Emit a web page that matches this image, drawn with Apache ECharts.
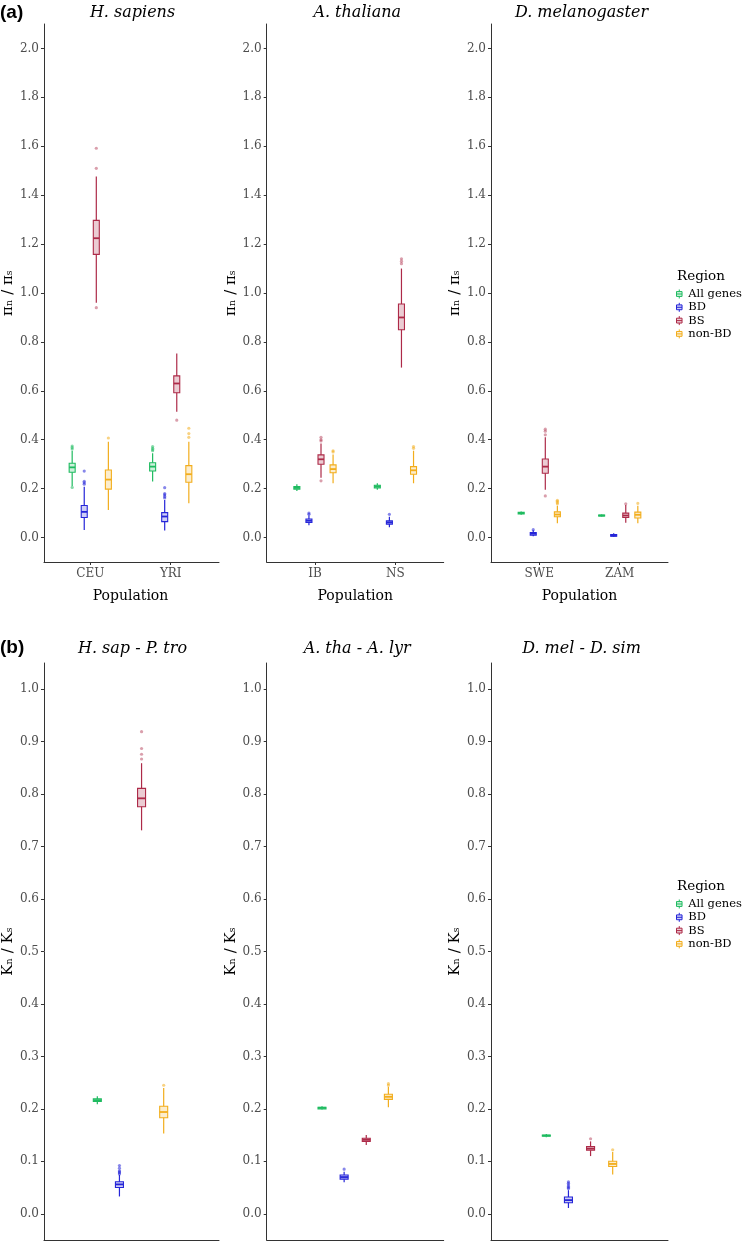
<!DOCTYPE html>
<html><head><meta charset="utf-8">
<script src="https://cdn.jsdelivr.net/npm/echarts@6/dist/echarts.min.js"></script>
<style>html,body{margin:0;padding:0;background:#fff}#c{width:747px;height:1247px}</style>
</head><body><div id="c"></div><script>
// ---------------- DATA ----------------
const regions = ['All genes', 'BD', 'BS', 'non-BD'];
const topTicks = [0.0, 0.2, 0.4, 0.6, 0.8, 1.0, 1.2, 1.4, 1.6, 1.8, 2.0];
const bottomTicks = [0.0, 0.1, 0.2, 0.3, 0.4, 0.5, 0.6, 0.7, 0.8, 0.9, 1.0];

// box stats: [lower whisker, Q1, median, Q3, upper whisker] per population
const hsPops = ['CEU', 'YRI'];
const hsAll = [[0.211, 0.267, 0.287, 0.304, 0.355], [0.229, 0.272, 0.290, 0.306, 0.345]];
const hsAllOut = [[0.362, 0.368, 0.374, 0.205], [0.355, 0.360, 0.365, 0.372]];
const hsBD = [[0.031, 0.082, 0.105, 0.131, 0.208], [0.029, 0.065, 0.086, 0.102, 0.154]];
const hsBDOut = [[0.218, 0.224, 0.230, 0.272], [0.162, 0.168, 0.175, 0.180, 0.204]];
const hsBS = [[0.960, 1.158, 1.224, 1.297, 1.476], [0.514, 0.592, 0.630, 0.661, 0.753]];
const hsBSOut = [[1.510, 1.592, 0.940], [0.480]];
const hsNon = [[0.113, 0.198, 0.237, 0.276, 0.392], [0.140, 0.226, 0.259, 0.294, 0.392]];
const hsNonOut = [[0.407], [0.410, 0.425, 0.447]];

const atPops = ['IB', 'NS'];
const atAll = [[0.190, 0.198, 0.203, 0.209, 0.218], [0.195, 0.203, 0.209, 0.214, 0.222]];
const atAllOut = [[], []];
const atBD = [[0.050, 0.062, 0.069, 0.076, 0.090], [0.042, 0.055, 0.062, 0.068, 0.085]];
const atBDOut = [[0.095, 0.100], [0.095]];
const atBS = [[0.245, 0.300, 0.320, 0.338, 0.385], [0.695, 0.850, 0.900, 0.955, 1.100]];
const atBSOut = [[0.395, 0.400, 0.410, 0.232], [1.120, 1.130, 1.140]];
const atNon = [[0.222, 0.265, 0.280, 0.297, 0.340], [0.222, 0.259, 0.275, 0.290, 0.355]];
const atNonOut = [[0.350, 0.355], [0.365, 0.372]];

const dmPops = ['SWE', 'ZAM'];
const dmAll = [[0.093, 0.096, 0.100, 0.103, 0.107], [0.086, 0.088, 0.090, 0.092, 0.094]];
const dmAllOut = [[], []];
const dmBD = [[0.005, 0.010, 0.016, 0.020, 0.030], [0.002, 0.005, 0.008, 0.012, 0.018]];
const dmBDOut = [[0.032], []];
const dmBS = [[0.195, 0.263, 0.290, 0.321, 0.410], [0.060, 0.082, 0.090, 0.100, 0.133]];
const dmBSOut = [[0.420, 0.435, 0.443, 0.170], [0.138]];
const dmNon = [[0.058, 0.085, 0.094, 0.105, 0.130], [0.058, 0.080, 0.093, 0.104, 0.130]];
const dmNonOut = [[0.138, 0.143, 0.148, 0.152], [0.140]];

const hpCat = ['H. sap - P. tro'];
const hpAll = [[0.209, 0.214, 0.2165, 0.219, 0.224]];
const hpAllOut = [[]];
const hpBD = [[0.033, 0.050, 0.056, 0.061, 0.074]];
const hpBDOut = [[0.076, 0.078, 0.080, 0.082, 0.087, 0.092]];
const hpBS = [[0.731, 0.776, 0.792, 0.811, 0.859]];
const hpBSOut = [[0.867, 0.876, 0.887, 0.919]];
const hpNon = [[0.153, 0.183, 0.194, 0.205, 0.240]];
const hpNonOut = [[0.245]];

const aaCat = ['A. tha - A. lyr'];
const aaAll = [[0.199, 0.200, 0.202, 0.203, 0.205]];
const aaAllOut = [[]];
const aaBD = [[0.060, 0.066, 0.070, 0.074, 0.080]];
const aaBDOut = [[0.085]];
const aaBS = [[0.131, 0.138, 0.141, 0.144, 0.150]];
const aaBSOut = [[]];
const aaNon = [[0.203, 0.218, 0.223, 0.228, 0.242]];
const aaNonOut = [[0.245, 0.248]];

const ddCat = ['D. mel - D. sim'];
const ddAll = [[0.146, 0.148, 0.149, 0.150, 0.152]];
const ddAllOut = [[]];
const ddBD = [[0.011, 0.021, 0.026, 0.032, 0.045]];
const ddBDOut = [[0.048, 0.050, 0.052, 0.055, 0.058, 0.061]];
const ddBS = [[0.110, 0.121, 0.124, 0.128, 0.138]];
const ddBSOut = [[0.143]];
const ddNon = [[0.075, 0.090, 0.095, 0.100, 0.118]];
const ddNonOut = [[0.122]];

// ---------------- STYLE ----------------
const lineColors = ['#1fbb60', '#2525d8', '#ad2a48', '#f2ad1c'];
const fillColors = ['rgba(31,187,96,0.22)', 'rgba(37,37,216,0.22)', 'rgba(173,42,72,0.24)', 'rgba(242,173,28,0.22)'];
const dotColors = ['rgba(31,187,96,0.55)', 'rgba(37,37,216,0.55)', 'rgba(173,42,72,0.45)', 'rgba(242,173,28,0.55)'];
const SERIF = "'DejaVu Serif', serif";
const DODGE = 0.15;
const PW = 177;
const lefts = [42, 266.7, 491];

const option = {
  animation: false,
  backgroundColor: '#fff',
  grid: [], xAxis: [], yAxis: [], series: [], graphic: [], legend: []
};

function boxRender(r, boxW) {
  return function (params, api) {
    const c = api.value(0);
    const band = api.size([1, 0], [c, 0])[0];
    const x = api.coord([c, 0])[0] + (r - 1.5) * DODGE * band;
    const ys = [1, 2, 3, 4, 5].map(k => api.coord([c, api.value(k)])[1]);
    const h = boxW / 2;
    const stroke = lineColors[r], fill = fillColors[r];
    return {
      type: 'group', children: [
        { type: 'line', shape: { x1: x, y1: ys[4], x2: x, y2: ys[3] }, style: { stroke: stroke, lineWidth: 1.2 } },
        { type: 'line', shape: { x1: x, y1: ys[1], x2: x, y2: ys[0] }, style: { stroke: stroke, lineWidth: 1.2 } },
        { type: 'rect', shape: { x: x - h, y: ys[3], width: boxW, height: ys[1] - ys[3] }, style: { fill: fill, stroke: stroke, lineWidth: 1.1 } },
        { type: 'line', shape: { x1: x - h, y1: ys[2], x2: x + h, y2: ys[2] }, style: { stroke: stroke, lineWidth: 1.8 } }
      ]
    };
  };
}
function dotRender(r) {
  return function (params, api) {
    const c = api.value(0);
    const band = api.size([1, 0], [c, 0])[0];
    const p = api.coord([c, api.value(1)]);
    return { type: 'circle', shape: { cx: p[0] + (r - 1.5) * DODGE * band, cy: p[1], r: 1.6 }, style: { fill: dotColors[r] } };
  };
}

function addPanel(cfg) {
  const L = cfg.left, n = cfg.cats.length;
  const gi = option.grid.length;
  option.grid.push({ left: L, top: cfg.top, width: PW, height: cfg.height, containLabel: false });
  option.xAxis.push({
    gridIndex: gi, type: 'value', min: 0, max: 1,
    axisLine: { show: true, onZero: false, lineStyle: { color: '#333', width: 1 } },
    axisTick: { show: false }, axisLabel: { show: false }, splitLine: { show: false }
  });
  option.yAxis.push({
    gridIndex: gi, type: 'value', min: cfg.yMin, max: cfg.yMax,
    axisLine: { show: true, onZero: false, lineStyle: { color: '#333', width: 1 } },
    axisTick: { show: true, length: 3, customValues: cfg.ticks, lineStyle: { color: '#333' } },
    axisLabel: { show: true, customValues: cfg.ticks, formatter: v => v.toFixed(1), color: '#4d4d4d', fontFamily: SERIF, fontSize: 12, margin: 5 },
    splitLine: { show: false },
    name: cfg.yName, nameLocation: 'middle', nameGap: 25, nameRotate: 90,
    nameTextStyle: { fontFamily: SERIF, fontSize: 15, color: '#000' }
  });
  const gd = option.grid.length;
  option.grid.push({ left: L + PW * 0.1 / (n + 0.2), top: cfg.top, width: PW * n / (n + 0.2), height: cfg.height, containLabel: false });
  option.xAxis.push({
    gridIndex: gd, type: 'category', data: cfg.cats, boundaryGap: true,
    axisLine: { show: false, onZero: false },
    axisTick: { show: cfg.showCats, alignWithLabel: true, length: 3, lineStyle: { color: '#333' } },
    axisLabel: { show: cfg.showCats, color: '#4d4d4d', fontFamily: SERIF, fontSize: 12, margin: 6 },
    splitLine: { show: false },
    name: cfg.showCats ? 'Population' : '', nameLocation: 'middle', nameGap: 27,
    nameTextStyle: { fontFamily: SERIF, fontSize: 14, color: '#000' }
  });
  option.yAxis.push({ gridIndex: gd, type: 'value', min: cfg.yMin, max: cfg.yMax, show: false });
  for (let r = 0; r < 4; r++) {
    option.series.push({
      type: 'custom', name: regions[r], xAxisIndex: gd, yAxisIndex: gd,
      data: cfg.boxes[r].map((b, i) => [i].concat(b)),
      encode: { x: 0, y: [1, 2, 3, 4, 5] },
      renderItem: boxRender(r, cfg.boxW),
      itemStyle: { color: fillColors[r], borderColor: lineColors[r], borderWidth: 1 },
      z: 3, silent: true
    });
  }
  for (let r = 0; r < 4; r++) {
    const pts = [];
    cfg.outs[r].forEach((arr, i) => arr.forEach(v => pts.push([i, v])));
    option.series.push({
      type: 'custom', name: regions[r], xAxisIndex: gd, yAxisIndex: gd,
      data: pts, encode: { x: 0, y: 1 },
      renderItem: dotRender(r),
      itemStyle: { color: fillColors[r], borderColor: lineColors[r] },
      z: 4, silent: true
    });
  }
}

const topCfg = { top: 24, height: 538, yMin: -0.1, yMax: 2.1, ticks: topTicks, yName: 'πₙ / πₛ', showCats: true, boxW: 6 };
const botCfg = { top: 663, height: 577, yMin: -0.05, yMax: 1.05, ticks: bottomTicks, yName: 'Kₙ / Kₛ', showCats: false, boxW: 8 };

addPanel(Object.assign({}, topCfg, { left: lefts[0], cats: hsPops, boxes: [hsAll, hsBD, hsBS, hsNon], outs: [hsAllOut, hsBDOut, hsBSOut, hsNonOut] }));
addPanel(Object.assign({}, topCfg, { left: lefts[1], cats: atPops, boxes: [atAll, atBD, atBS, atNon], outs: [atAllOut, atBDOut, atBSOut, atNonOut] }));
addPanel(Object.assign({}, topCfg, { left: lefts[2], cats: dmPops, boxes: [dmAll, dmBD, dmBS, dmNon], outs: [dmAllOut, dmBDOut, dmBSOut, dmNonOut] }));
addPanel(Object.assign({}, botCfg, { left: lefts[0], cats: hpCat, boxes: [hpAll, hpBD, hpBS, hpNon], outs: [hpAllOut, hpBDOut, hpBSOut, hpNonOut] }));
addPanel(Object.assign({}, botCfg, { left: lefts[1], cats: aaCat, boxes: [aaAll, aaBD, aaBS, aaNon], outs: [aaAllOut, aaBDOut, aaBSOut, aaNonOut] }));
addPanel(Object.assign({}, botCfg, { left: lefts[2], cats: ddCat, boxes: [ddAll, ddBD, ddBS, ddNon], outs: [ddAllOut, ddBDOut, ddBSOut, ddNonOut] }));

// titles
const topTitles = ['H. sapiens', 'A. thaliana', 'D. melanogaster'];
const botTitles = ['H. sap - P. tro', 'A. tha - A. lyr', 'D. mel - D. sim'];
function txt(text, x, y, extra) {
  return { type: 'text', x: x, y: y, silent: true,
    style: Object.assign({ text: text, fill: '#000', fontFamily: SERIF, fontSize: 16, fontStyle: 'italic', align: 'center', verticalAlign: 'middle' }, extra || {}) };
}
topTitles.forEach((t, i) => option.graphic.push(txt(t, lefts[i] + PW / 2 + 2, 13)));
botTitles.forEach((t, i) => option.graphic.push(txt(t, lefts[i] + PW / 2 + 2, 649)));
option.graphic.push(txt('(a)', 0, 13, { align: 'left', fontFamily: "'Liberation Sans', Arial, sans-serif", fontWeight: 'bold', fontStyle: 'normal', fontSize: 19 }));
option.graphic.push(txt('(b)', 0, 648, { align: 'left', fontFamily: "'Liberation Sans', Arial, sans-serif", fontWeight: 'bold', fontStyle: 'normal', fontSize: 19 }));
option.graphic.push(txt('Region', 677, 276, { align: 'left', fontStyle: 'normal', fontSize: 13.5 }));
option.graphic.push(txt('Region', 677, 886, { align: 'left', fontStyle: 'normal', fontSize: 13.5 }));

const legendIcon = 'path://M5,0V3M5,10V13M1,3H9V10H1ZM1,6.5H9';
const legendData = regions.map((name, r) => ({
  name: name, icon: legendIcon,
  itemStyle: { color: fillColors[r], borderColor: lineColors[r], borderWidth: 1 }
}));
[288, 898].forEach(top => option.legend.push({
  left: 676, top: top, orient: 'vertical', itemWidth: 10, itemHeight: 9, itemGap: 1.3, padding: 0,
  selectedMode: false, data: legendData,
  textStyle: { fontFamily: SERIF, fontSize: 11.5, color: '#000', lineHeight: 9, padding: [0, 0, 0, -1] }
}));

const chart = echarts.init(document.getElementById('c'), null, { renderer: 'canvas' });
chart.setOption(option);
</script></body></html>
